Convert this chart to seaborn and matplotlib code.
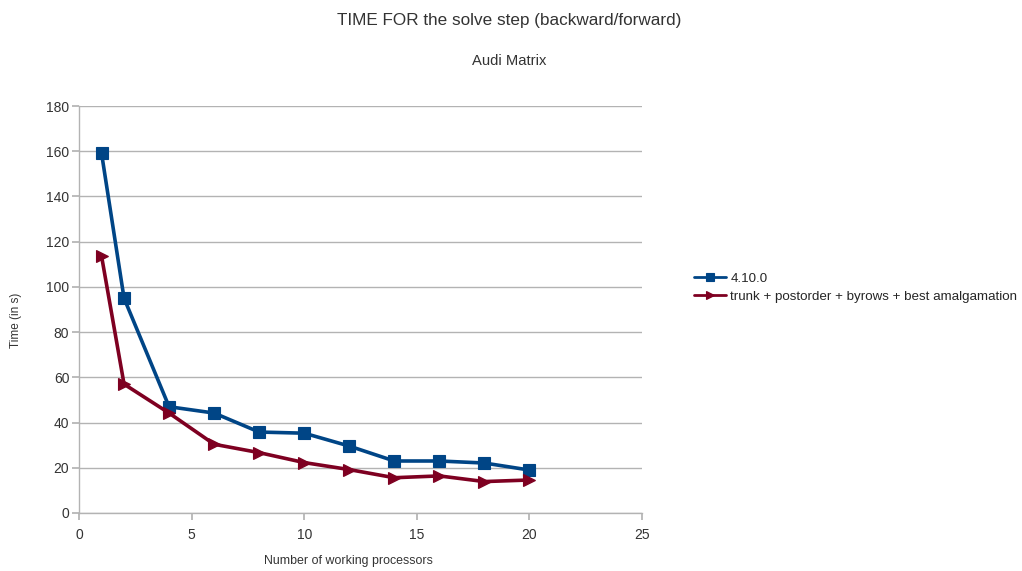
import matplotlib
matplotlib.use("Agg")
import matplotlib.pyplot as plt
import seaborn as sns
import pandas as pd

procs = [1, 2, 4, 6, 8, 10, 12, 14, 16, 18, 20]
series_410 = [159.2, 95.0, 47.0, 44.2, 35.8, 35.3, 29.6, 23.0, 23.0, 22.1, 19.0]
series_trunk = [113.7, 57.0, 44.2, 30.4, 26.7, 22.3, 19.2, 15.6, 16.4, 13.9, 14.6]
names = ["4.10.0", "trunk + postorder + byrows + best amalgamation"]
colors = {names[0]: "#004586", names[1]: "#7e0021"}

sns.set_theme(style="white")
plt.rcParams['font.family'] = ['Liberation Sans', 'DejaVu Sans']

df = pd.DataFrame({
    "x": procs * 2,
    "y": series_410 + series_trunk,
    "s": [names[0]] * len(procs) + [names[1]] * len(procs),
})

fig = plt.figure(figsize=(10.22, 5.71), dpi=100)
ax = fig.add_axes([79/1022, 1 - 513/571, (642-79)/1022, (513-106)/571])

sns.lineplot(data=df, x="x", y="y", hue="s", style="s",
             palette=colors,
             markers={names[0]: "s", names[1]: ">"}, dashes=False,
             markersize=8, linewidth=2.6, ax=ax, legend=True)

for line in ax.get_lines():
    c = line.get_color()
    line.set_markeredgecolor(c)
    line.set_markerfacecolor(c)
    line.set_markeredgewidth(0.8)

ax.set_xlim(0, 25)
ax.set_ylim(0, 180)
ax.set_xticks([0, 5, 10, 15, 20, 25])
ax.set_yticks(range(0, 181, 20))
ax.yaxis.grid(True, color="#b3b3b3", linewidth=1)
ax.set_axisbelow(True)
for s in ["top", "right"]:
    ax.spines[s].set_visible(False)
for s in ["left", "bottom"]:
    ax.spines[s].set_color("#b3b3b3")
    ax.spines[s].set_linewidth(1)
ax.tick_params(axis="both", which="both", length=5, color="#b3b3b3", labelsize=10,
               labelcolor="#333333", direction="out", left=True, bottom=True)
ax.tick_params(axis="x", pad=6)
ax.tick_params(axis="y", pad=2)

ax.set_xlabel("")
ax.set_ylabel("")
fig.text(348/1022, 1 - 561/571, "Number of working processors", ha="center", va="center",
         fontsize=8.9, color="#333333")
fig.text(16/1022, 1 - 320/571, "Time (in s)", ha="center", va="center", rotation=90,
         fontsize=8.5, color="#333333")

fig.text(509/1022, 1 - 20/571, "TIME FOR the solve step (backward/forward)", ha="center",
         va="center", fontsize=12.3, color="#333333")
fig.text(509/1022, 1 - 61/571, "Audi Matrix", ha="center", va="center", fontsize=10.6,
         color="#333333")

handles, labels = ax.get_legend_handles_labels()
leg = ax.legend(handles, labels, loc="center left", bbox_to_anchor=(689/1022, 1 - 287.5/571),
                bbox_transform=fig.transFigure, frameon=False, fontsize=9.6,
                handlelength=2.4, handletextpad=0.3, labelspacing=0.45, borderaxespad=0)
for h in leg.legend_handles:
    c = h.get_color()
    h.set_markersize(6)
    h.set_linewidth(2)
    h.set_markeredgecolor(c)
    h.set_markerfacecolor(c)

fig.savefig("out.png", dpi=100)
